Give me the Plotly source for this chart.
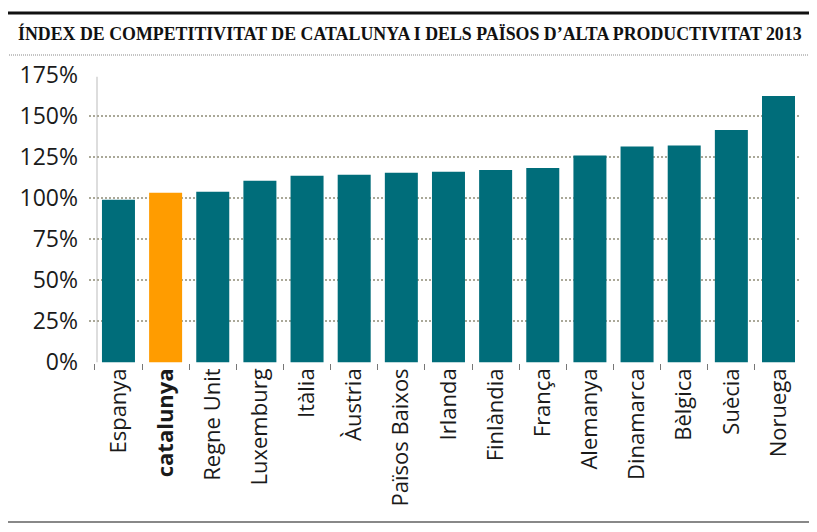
import plotly.graph_objects as go

# dades llegides del gràfic original (índex, %)
paisos = ["Espanya", "catalunya", "Regne Unit", "Luxemburg", "Itàlia", "Àustria",
          "Països Baixos", "Irlanda", "Finlàndia", "França", "Alemanya",
          "Dinamarca", "Bèlgica", "Suècia", "Noruega"]
index_comp = [99.0, 103.3, 103.9, 110.6, 113.6, 114.2, 115.4, 116.0, 117.2,
              118.4, 126.0, 131.5, 132.1, 141.5, 162.2]
etiquetes = ["<b>catalunya</b>" if p == "catalunya" else p for p in paisos]
y_ticks = [0, 25, 50, 75, 100, 125, 150, 175]
y_tick_labels = [f"{v}%" for v in y_ticks]

TEAL = "#006d7a"
ORANGE = "#ff9c00"
colors = [ORANGE if p == "catalunya" else TEAL for p in paisos]

# la pàgina html té un marge de 8px al body: ho compensem
OFF = 8
W, H = 817 - OFF, 532 - OFF
left, right, top, bottom = 89 - OFF, 800 - OFF, 74 - OFF, 363 - OFF


def px(x):  # coordenada x de la finestra -> paper
    return (x - OFF - left) / (right - left)


def py(y):  # coordenada y de la finestra -> paper
    return (bottom - (y - OFF)) / (bottom - top)


fig = go.Figure(go.Bar(x=paisos, y=index_comp, marker_color=colors,
                       marker_line_width=0, hoverinfo="x+y"))

fig.update_layout(
    width=W, height=H, autosize=False,
    margin=dict(l=left, r=W - right, t=top, b=H - bottom, pad=0),
    paper_bgcolor="white", plot_bgcolor="white",
    bargap=0.3, showlegend=False,
    font=dict(family="Open Sans", color="#222222"),
)

fig.update_xaxes(
    range=[-0.625, 14.456],
    tickmode="array", tickvals=paisos, ticktext=etiquetes,
    tickangle=-90, tickfont=dict(size=22, family="Open Sans", color="#1a1a1a"),
    tickson="boundaries", ticks="outside", ticklen=6, tickcolor="#777777",
    tickwidth=1, showgrid=False, showline=False, zeroline=False,
)
fig.update_yaxes(
    range=[-0.4, 175.6],
    tickmode="array", tickvals=y_ticks, ticktext=y_tick_labels,
    tickfont=dict(size=23, family="Open Sans", color="#1a1a1a"),
    ticks="", ticklabelstandoff=10,
    showgrid=True, gridcolor="#aaa898", gridwidth=1.5, griddash="2px,2px",
    zeroline=False, showline=False,
)

# línia vertical gris clar a l'esquerra de les barres
fig.add_shape(type="line", xref="paper", yref="y",
              x0=px(97), x1=px(97), y0=0, y1=174,
              line=dict(color="#dddddd", width=2), layer="below")

# línies decoratives de la capçalera i del peu
fig.add_shape(type="line", xref="paper", yref="paper",
              x0=px(5), x1=px(812), y0=py(13), y1=py(13),
              line=dict(color="#111111", width=3))
fig.add_shape(type="line", xref="paper", yref="paper",
              x0=px(5), x1=px(812), y0=py(55), y1=py(55),
              line=dict(color="#888888", width=1, dash="1px,1px"))
fig.add_shape(type="line", xref="paper", yref="paper",
              x0=px(3), x1=px(812), y0=py(522), y1=py(522),
              line=dict(color="#888888", width=2))

fig.add_annotation(
    text="<b>ÍNDEX DE COMPETITIVITAT DE CATALUNYA I DELS PAÏSOS D’ALTA PRODUCTIVITAT 2013</b>",
    xref="paper", yref="paper", x=px(16), y=py(33),
    xanchor="left", yanchor="middle", showarrow=False,
    font=dict(family="Liberation Serif", size=17.85, color="#111111"),
)

fig.write_html("out.html")
